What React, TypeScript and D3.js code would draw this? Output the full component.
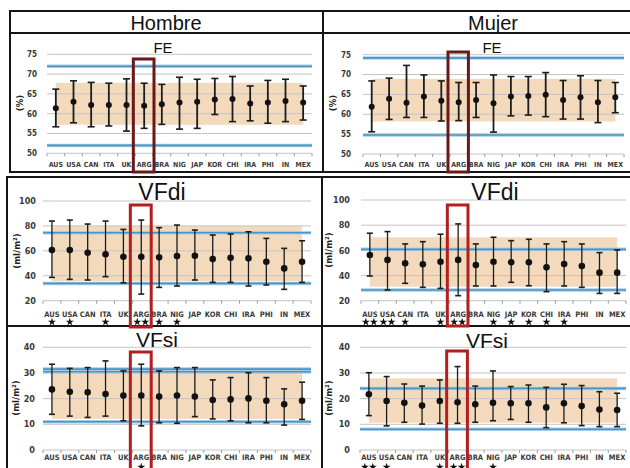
import React from "react"
import * as d3 from "d3"

const countries = ["AUS", "USA", "CAN", "ITA", "UK", "ARG", "BRA", "NIG", "JAP", "KOR", "CHI", "IRA", "PHI", "IN", "MEX"]

// FE (%) - hombre
const feMenMean = [61.4, 63.0, 62.2, 62.2, 62.2, 62.0, 62.4, 62.8, 63.0, 63.6, 63.7, 62.6, 62.8, 63.2, 62.8]
const feMenHigh = [66.2, 68.3, 67.9, 67.7, 68.8, 67.7, 67.4, 69.2, 68.7, 68.9, 69.4, 67.0, 68.4, 68.7, 67.0]
const feMenLow = [56.7, 57.7, 56.7, 56.9, 55.6, 56.3, 57.3, 56.1, 56.3, 59.8, 58.0, 58.2, 57.6, 58.0, 58.4]
const feMenBand = [57.2, 67.8]
const feMenRef = [52, 72]

// FE (%) - mujer
const feWomenMean = [61.9, 63.9, 62.9, 64.5, 63.4, 63.0, 63.6, 62.8, 64.5, 64.6, 64.9, 63.6, 64.3, 63.0, 64.3]
const feWomenHigh = [68.4, 69.1, 72.3, 69.9, 68.4, 68.0, 68.0, 69.9, 69.5, 69.5, 70.5, 68.5, 69.7, 68.5, 68.0]
const feWomenLow = [55.6, 58.7, 59.2, 59.2, 58.3, 58.4, 59.2, 55.5, 59.6, 59.8, 59.4, 58.8, 58.8, 57.9, 60.4]
const feWomenBand = [58.2, 68.9]
const feWomenRef = [54.8, 74.2]

// VFdi (ml/m2) - hombre
const vfdiMenMean = [60.6, 60.6, 58.5, 57.2, 55.3, 55.3, 54.8, 55.8, 56.1, 53.4, 54.5, 54.0, 51.3, 45.9, 51.3]
const vfdiMenHigh = [83.9, 84.7, 81.5, 83.9, 77.2, 84.7, 78.6, 80.7, 76.7, 72.7, 73.5, 75.3, 70.0, 62.0, 68.1]
const vfdiMenLow = [38.7, 37.1, 36.6, 39.3, 34.4, 25.3, 30.7, 31.8, 36.6, 34.7, 34.7, 31.8, 32.6, 29.1, 34.7]
const vfdiMenBand = [35.8, 80]
const vfdiMenRef = [33.9, 74.5]
const vfdiMenStars = [1, 1, 0, 1, 0, 2, 1, 1, 0, 0, 0, 0, 0, 0, 0]

// VFdi (ml/m2) - mujer
const vfdiWomenMean = [56.3, 52.4, 49.7, 48.9, 51.0, 52.4, 48.4, 51.0, 50.5, 50.5, 46.5, 49.2, 47.6, 42.3, 42.3]
const vfdiWomenHigh = [73.6, 74.9, 65.1, 66.9, 72.8, 81.0, 65.1, 70.4, 67.7, 68.8, 65.1, 66.9, 65.1, 58.2, 60.3]
const vfdiWomenLow = [39.6, 28.5, 33.8, 30.6, 29.8, 24.0, 31.7, 31.7, 34.6, 31.9, 27.2, 31.7, 30.6, 25.8, 25.8]
const vfdiWomenBand = [31.1, 70.4]
const vfdiWomenRef = [28.5, 60.8]
const vfdiWomenStars = [2, 2, 1, 0, 1, 2, 0, 1, 1, 1, 1, 1, 0, 0, 0]

// VFsi (ml/m2) - hombre
const vfsiMenMean = [23.6, 22.7, 22.5, 21.8, 21.2, 21.2, 20.8, 21.2, 20.8, 19.5, 19.7, 20.1, 19.2, 17.8, 19.2]
const vfsiMenHigh = [33.4, 31.8, 32.1, 34.7, 30.8, 33.4, 30.8, 32.1, 32.1, 27.3, 28.2, 30.1, 28.2, 23.8, 26.4]
const vfsiMenLow = [13.9, 13.2, 12.7, 13.2, 11.4, 9.4, 10.6, 10.4, 13.0, 12.1, 11.4, 10.6, 10.6, 9.7, 11.9]
const vfsiMenBand = [12.1, 30.8]
const vfsiMenRef = [11.0, 30.5, 31.5]
const vfsiMenStars = [0, 0, 0, 0, 0, 1, 0, 0, 0, 0, 0, 0, 0, 0, 0]

// VFsi (ml/m2) - mujer
const vfsiWomenMean = [21.7, 19.1, 18.4, 17.3, 19.1, 18.6, 17.8, 18.4, 18.2, 18.2, 16.6, 18.2, 17.1, 15.8, 15.6]
const vfsiWomenHigh = [30.1, 28.6, 25.7, 24.9, 27.3, 32.5, 24.9, 30.8, 24.7, 25.3, 24.4, 25.6, 25.1, 22.7, 22.1]
const vfsiWomenLow = [13.4, 9.4, 10.8, 10.1, 10.4, 10.4, 10.8, 11.4, 11.9, 10.8, 8.7, 10.6, 9.5, 9.1, 9.1]
const vfsiWomenBand = [10.6, 27.9]
const vfsiWomenRef = [8.1, 24.0]
const vfsiWomenStars = [2, 1, 0, 0, 1, 2, 0, 1, 0, 0, 0, 0, 0, 0, 0]

const tickFont = "'DejaVu Sans Condensed', 'Liberation Sans Narrow', sans-serif"
const titleFont = "'Liberation Sans', Arial, sans-serif"

const panels = [
  { title: "FE", mean: feMenMean, high: feMenHigh, low: feMenLow, band: feMenBand, refs: feMenRef, stars: null,
    xRange: [47, 312], domain: [50, 75], step: 5, yRange: [153.3, 54.3], tickX: 37, tickSize: 8,
    yLabel: "(%)", yLabelPos: [20, 103], titlePos: [163, 53], titleSize: 15, labelY: 167, labelSize: 7,
    red: [59, 172], redColor: "#6b1818", barW: 1.8, capW: 7, dotR: 3 },
  { title: "FE", mean: feWomenMean, high: feWomenHigh, low: feWomenLow, band: feWomenBand, refs: feWomenRef, stars: null,
    xRange: [363, 624], domain: [50, 75], step: 5, yRange: [154, 54.7], tickX: 351, tickSize: 8,
    yLabel: "(%)", yLabelPos: [333, 103], titlePos: [492, 53], titleSize: 15, labelY: 167, labelSize: 7,
    red: [52, 172], redColor: "#6b1818", barW: 1.8, capW: 7, dotR: 3 },
  { title: "VFdi", mean: vfdiMenMean, high: vfdiMenHigh, low: vfdiMenLow, band: vfdiMenBand, refs: vfdiMenRef, stars: vfdiMenStars,
    xRange: [43, 311], domain: [20, 100], step: 20, yRange: [300.7, 201], tickX: 36, tickSize: 9,
    yLabel: "(ml/m²)", yLabelPos: [17, 251], titlePos: [162, 200], titleSize: 23, labelY: 317, labelSize: 7.5,
    starY: 322, red: [205, 327], redColor: "#b21f1f", barW: 1.3, capW: 6, dotR: 3.3 },
  { title: "VFdi", mean: vfdiWomenMean, high: vfdiWomenHigh, low: vfdiWomenLow, band: vfdiWomenBand, refs: vfdiWomenRef, stars: vfdiWomenStars,
    xRange: [361, 626], domain: [20, 100], step: 20, yRange: [300.7, 200], tickX: 350, tickSize: 9,
    yLabel: "(ml/m²)", yLabelPos: [329, 250], titlePos: [495, 200], titleSize: 23, labelY: 317, labelSize: 7.5,
    starY: 322, red: [205, 326], redColor: "#b21f1f", barW: 1.3, capW: 6, dotR: 3.3 },
  { title: "VFsi", mean: vfsiMenMean, high: vfsiMenHigh, low: vfsiMenLow, band: vfsiMenBand, refs: vfsiMenRef, stars: vfsiMenStars,
    xRange: [43, 311], domain: [0, 40], step: 10, yRange: [450, 347.3], tickX: 35, tickSize: 9,
    yLabel: "(ml/m²)", yLabelPos: [16, 398], titlePos: [157, 347], titleSize: 21, labelY: 460, labelSize: 7.5,
    starY: 467, red: [352, 472], redColor: "#b21f1f", barW: 1.3, capW: 6, dotR: 3.3 },
  { title: "VFsi", mean: vfsiWomenMean, high: vfsiWomenHigh, low: vfsiWomenLow, band: vfsiWomenBand, refs: vfsiWomenRef, stars: vfsiWomenStars,
    xRange: [360, 626], domain: [0, 40], step: 10, yRange: [450, 347.3], tickX: 350, tickSize: 9,
    yLabel: "(ml/m²)", yLabelPos: [329, 398], titlePos: [487, 348], titleSize: 21, labelY: 460, labelSize: 7.5,
    starY: 467, red: [351, 472], redColor: "#b21f1f", barW: 1.3, capW: 6, dotR: 3.3 },
]

function Panel({ p }: { p: any }) {
  const x = d3.scaleBand().domain(countries).range(p.xRange)
  const y = d3.scaleLinear().domain(p.domain).range(p.yRange)
  const bw = x.bandwidth()
  const cx = (c: string) => (x(c) as number) + bw / 2
  const ticks = d3.range(p.domain[0], p.domain[1] + 0.001, p.step)
  const star = d3.symbol(d3.symbolStar, 20)()

  return (
    <g>
      {/* reference band */}
      <rect x={cx(countries[0])} width={cx(countries[countries.length - 1]) - cx(countries[0])}
        y={y(p.band[1])} height={y(p.band[0]) - y(p.band[1])} fill="#f2d4b0" opacity={0.85} />
      {ticks.map(t => (
        <g key={t}>
          <line x1={p.xRange[0]} x2={p.xRange[1]} y1={y(t)} y2={y(t)} stroke="#c4c4c4" strokeWidth={1} />
          <text x={p.tickX} y={y(t)} dy="0.35em" textAnchor="end" fontSize={p.tickSize}
            fontFamily={tickFont} fontWeight="bold" fill="#3a3a3a">{t}</text>
        </g>
      ))}
      {/* tick marks on the base line */}
      {d3.range(countries.length + 1).map(i => (
        <line key={i} x1={p.xRange[0] + i * bw} x2={p.xRange[0] + i * bw}
          y1={y(p.domain[0])} y2={y(p.domain[0]) + 3} stroke="#9a9a9a" />
      ))}
      {p.refs.map((r: number, i: number) => (
        <g key={i}>
          <line x1={p.xRange[0]} x2={p.xRange[1]} y1={y(r)} y2={y(r)} stroke="#a9cde6" strokeWidth={3.5} />
          <line x1={p.xRange[0]} x2={p.xRange[1]} y1={y(r)} y2={y(r)} stroke="#4a95c8" strokeWidth={1.6} />
        </g>
      ))}
      {countries.map((c, i) => (
        <g key={c}>
          <line x1={cx(c)} x2={cx(c)} y1={y(p.high[i])} y2={y(p.low[i])} stroke="#1c1c1c" strokeWidth={p.barW} />
          <line x1={cx(c) - p.capW / 2} x2={cx(c) + p.capW / 2} y1={y(p.high[i])} y2={y(p.high[i])} stroke="#1c1c1c" strokeWidth={1.6} />
          <line x1={cx(c) - p.capW / 2} x2={cx(c) + p.capW / 2} y1={y(p.low[i])} y2={y(p.low[i])} stroke="#1c1c1c" strokeWidth={1.6} />
          <circle cx={cx(c)} cy={y(p.mean[i])} r={p.dotR} fill="#111" />
          <text x={cx(c)} y={p.labelY} textAnchor="middle" fontSize={p.labelSize} fontFamily={tickFont}
            fontWeight="bold" fill="#3a3a3a">{c}</text>
          {p.stars && d3.range(p.stars[i]).map(k => (
            <path key={k} d={star as string} fill="#111"
              transform={`translate(${cx(c) + (p.stars[i] === 2 ? (k === 0 ? -4 : 4) : 0)},${p.starY})`} />
          ))}
        </g>
      ))}
      <text x={p.titlePos[0]} y={p.titlePos[1]} textAnchor="middle" fontSize={p.titleSize}
        fontFamily={titleFont} fill="#111">{p.title}</text>
      <text transform={`translate(${p.yLabelPos[0]},${p.yLabelPos[1]}) rotate(-90)`} textAnchor="middle"
        dy="0.35em" fontSize={9.5} fontWeight="bold" fontFamily={tickFont} fill="#222">{p.yLabel}</text>
      {/* highlight for ARG */}
      <rect x={(x("ARG") as number) - 2} y={p.red[0]} width={bw + 3} height={p.red[1] - p.red[0]}
        fill="none" stroke={p.redColor} strokeWidth={3} />
    </g>
  )
}

export default function App() {
  const frame = "#151515"
  return (
    <svg width={630} height={468} style={{ position: "absolute", left: 0, top: 0, background: "#fff" }}>
      <rect width={630} height={468} fill="#fff" />
      {/* table frame */}
      <line x1={10} x2={630} y1={11} y2={11} stroke={frame} strokeWidth={2} />
      <line x1={10} x2={630} y1={33} y2={33} stroke={frame} strokeWidth={2} />
      <line x1={10} x2={10} y1={10} y2={173} stroke={frame} strokeWidth={2} />
      <line x1={323} x2={323} y1={10} y2={173} stroke={frame} strokeWidth={2} />
      <line x1={10} x2={630} y1={172} y2={172} stroke={frame} strokeWidth={2} />
      <line x1={7} x2={630} y1={177} y2={177} stroke={frame} strokeWidth={2} />
      <line x1={7} x2={7} y1={176} y2={468} stroke={frame} strokeWidth={2} />
      <line x1={322} x2={322} y1={176} y2={468} stroke={frame} strokeWidth={2} />
      <line x1={7} x2={630} y1={326} y2={326} stroke={frame} strokeWidth={2} />
      <text x={166} y={30} textAnchor="middle" fontSize={20} fontFamily={titleFont} fill="#111">Hombre</text>
      <text x={493} y={30} textAnchor="middle" fontSize={20} fontFamily={titleFont} fill="#111">Mujer</text>
      {panels.map((p, i) => <Panel key={i} p={p} />)}
    </svg>
  )
}
